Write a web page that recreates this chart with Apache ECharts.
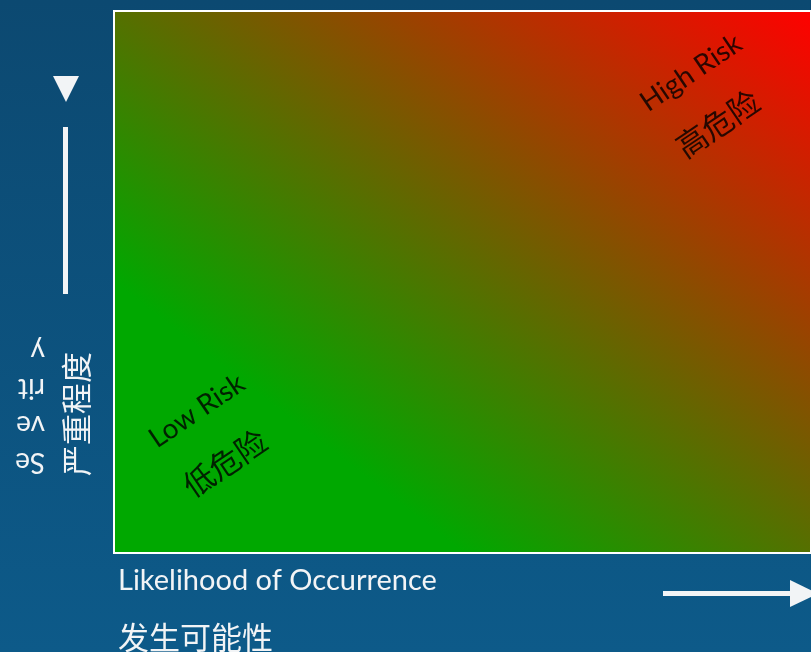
<!DOCTYPE html>
<html>
<head>
<meta charset="utf-8">
<script src="https://cdn.jsdelivr.net/npm/echarts@6/dist/echarts.min.js"></script>
<style>
html,body{margin:0;padding:0;}
#main{width:811px;height:652px;}
</style>
</head>
<body>
<div id="main"></div>
<script>
// 风险区域文字（数据坐标 0-10）
var zoneLabels = ['High Risk', '高危险', 'Low Risk', '低危险'];
var zoneLikelihood = [8.28, 8.66, 1.19, 1.59];   // 可能性 x
var zoneSeverity = [8.86, 7.92, 2.62, 1.66];     // 严重程度 y
var xTitle = ['Likelihood of Occurrence', '发生可能性'];
var yTitle = ['Se\nve\nrit\ny', '严重程度'];

var myChart = echarts.init(document.getElementById('main'));

var points = zoneLabels.map(function (name, i) {
    var cn = /[\u4e00-\u9fa5]/.test(name);
    return {
        name: name,
        value: [zoneLikelihood[i], zoneSeverity[i]],
        label: {
            fontSize: cn ? 31 : 28,
            fontFamily: cn ? 'Noto Sans CJK SC' : 'Lato'
        }
    };
});

var white = '#f2f4f6';

// 绘图区 114..813 x 11..553，渐变方向使左上和右下颜色相同
option = {
    backgroundColor: new echarts.graphic.LinearGradient(0, 0, 0, 1, [
        {offset: 0, color: '#0c4971'},
        {offset: 1, color: '#0d5a89'}
    ]),
    animation: false,
    grid: {
        show: true,
        left: 114,
        top: 11,
        right: -2,
        bottom: 99,
        borderColor: '#ffffff',
        borderWidth: 2,
        backgroundColor: new echarts.graphic.LinearGradient(114, 553, 639, -124, [
            {offset: 0, color: '#00a800'},
            {offset: 0.25, color: '#00a800'},
            {offset: 1, color: '#ff0000'}
        ], true)
    },
    xAxis: {type: 'value', min: 0, max: 10, show: false},
    yAxis: {type: 'value', min: 0, max: 10, show: false},
    series: [{
        type: 'scatter',
        symbolSize: 0,
        data: points,
        label: {
            show: true,
            position: 'inside',
            rotate: 34,
            color: '#000',
            formatter: '{b}'
        }
    }],
    graphic: [
        // 横轴标题
        {type: 'text', x: 118, y: 581,
            style: {text: xTitle[0], fill: white, font: '29px Lato', verticalAlign: 'middle'}},
        {type: 'text', x: 118, y: 637,
            style: {text: xTitle[1], fill: white, font: '31px "Noto Sans CJK SC"', verticalAlign: 'middle'}},
        // 纵轴标题（倒置）
        {type: 'text', x: 45, y: 407, rotation: Math.PI,
            style: {text: yTitle[0], fill: white, font: '28px Lato', lineHeight: 37,
                align: 'left', verticalAlign: 'middle'}},
        {type: 'text', x: 76, y: 414, rotation: Math.PI / 2,
            style: {text: yTitle[1], fill: white, font: '31px "Noto Sans CJK SC"',
                align: 'center', verticalAlign: 'middle'}},
        // 箭头
        {type: 'polygon', shape: {points: [[53, 76], [79, 76], [66, 102]]}, style: {fill: white}},
        {type: 'rect', shape: {x: 63, y: 127, width: 5, height: 167}, style: {fill: white}},
        {type: 'rect', shape: {x: 663, y: 591, width: 130, height: 5}, style: {fill: white}},
        {type: 'polygon', shape: {points: [[790, 580], [790, 607], [818, 593.5]]}, style: {fill: white}}
    ]
};
myChart.setOption(option);
</script>
</body>
</html>
